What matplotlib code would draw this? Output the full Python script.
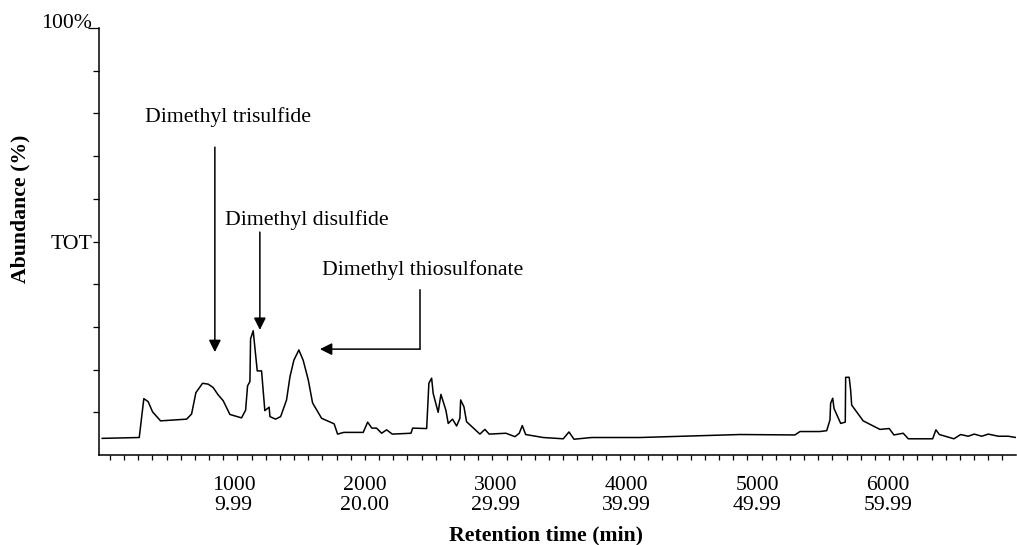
import numpy as np
import matplotlib
matplotlib.use("Agg")
import matplotlib.pyplot as plt

plt.rcParams['font.family'] = ['Liberation Serif', 'DejaVu Serif']

# Scan number and abundance (%)
scan = [-5, 278, 313, 346, 380, 441, 640, 678, 711, 762, 805, 843, 881, 920, 971,
        1060, 1091, 1106, 1124, 1129, 1149, 1180, 1213, 1238, 1271, 1277, 1320, 1359,
        1404, 1430, 1460, 1498, 1531, 1570, 1603, 1672, 1768, 1794, 1842, 1990, 2024,
        2056, 2092, 2131, 2169, 2212, 2355, 2368, 2475, 2492, 2513, 2525, 2563, 2584,
        2622, 2640, 2673, 2704, 2729, 2735, 2760, 2780, 2882, 2920, 2953, 3081, 3150,
        3183, 3206, 3232, 3366, 3519, 3563, 3601, 3736, 4105, 4870, 5290, 5329, 5481,
        5533, 5558, 5563, 5579, 5589, 5640, 5675, 5678, 5705, 5716, 5724, 5812, 5940,
        6011, 6047, 6118, 6157, 6343, 6368, 6394, 6506, 6557, 6615, 6661, 6718, 6768,
        6845, 6921, 6980]
abundance = [3.9, 4.1, 13.2, 12.5, 10.1, 8.0, 8.4, 9.6, 14.6, 16.8, 16.6, 15.8, 14.1, 12.7, 9.5,
             8.7, 10.5, 16.2, 17.2, 27.2, 29.1, 19.7, 19.7, 10.4, 11.2, 9.0, 8.4, 9.0,
             12.9, 18.3, 22.2, 24.6, 22.2, 17.6, 12.2, 8.6, 7.3, 4.9, 5.3, 5.3, 7.7,
             6.3, 6.3, 5.1, 5.9, 4.9, 5.1, 6.3, 6.2, 16.8, 18.0, 14.4, 10.0, 14.2,
             10.5, 7.4, 8.4, 6.8, 8.6, 12.9, 11.3, 7.8, 4.9, 6.0, 4.9, 5.1, 4.3,
             5.1, 6.9, 4.8, 4.1, 3.8, 5.4, 3.7, 4.1, 4.1, 4.8, 4.7, 5.5, 5.5,
             5.7, 8.2, 12.1, 13.3, 10.9, 7.4, 7.7, 18.2, 18.2, 15.2, 11.7, 8.0, 6.0,
             6.2, 4.7, 5.1, 3.8, 3.8, 5.9, 4.8, 3.8, 4.8, 4.4, 4.9, 4.4, 4.9,
             4.4, 4.4, 4.1]

x_major = [1000, 2000, 3000, 4000, 5000, 6000]
x_time = ["9.99", "20.00", "29.99", "39.99", "49.99", "59.99"]

compounds = ["Dimethyl trisulfide", "Dimethyl disulfide", "Dimethyl thiosulfonate"]

fig = plt.figure(figsize=(10.17, 5.45), dpi=100)
ax = fig.add_axes([0.0973, 0.1651, 0.9017, 0.7835])

ax.plot(scan, abundance, color='black', lw=1.1)
ax.set_xlim(-30, 6980)
ax.set_ylim(0, 100)

ax.spines['top'].set_visible(False)
ax.spines['right'].set_visible(False)
ax.spines['left'].set_linewidth(1.1)
ax.spines['bottom'].set_linewidth(1.1)

fs = 15.7
# x axis
ax.set_xticks(x_major)
ax.set_xticklabels([f"{s}\n{t}" for s, t in zip(x_major, x_time)], fontsize=fs, linespacing=1.1)
ax.tick_params(axis='x', which='major', length=0, pad=15)
ax.set_xticks(np.arange(64) * 108.3 + 53.5, minor=True)
ax.tick_params(axis='x', which='minor', length=3.5, width=0.9, direction='out')

# y axis
ax.set_yticks(np.arange(10, 101, 10))
ylabels = ["" for _ in range(10)]
ylabels[4] = "TOT"
ylabels[9] = "100%"
ax.set_yticklabels(ylabels, fontsize=fs)
ax.tick_params(axis='y', which='major', length=4, width=0.9, direction='out', pad=1)
ax.yaxis.get_major_ticks()[9].tick1line.set_markersize(8)
ax.get_yticklabels()[9].set_verticalalignment('baseline')

fig.text(0.537, 0.018, "Retention time (min)", fontsize=fs, fontweight='bold', ha='center', va='center')
fig.text(0.020, 0.617, "Abundance (%)", fontsize=fs, fontweight='bold', rotation=90, ha='center', va='center')

# annotations
ax.text(321, 79.2, compounds[0], fontsize=fs, ha='left', va='center')
ax.text(933, 55.0, compounds[1], fontsize=fs, ha='left', va='center')
ax.text(1674, 43.3, compounds[2], fontsize=fs, ha='left', va='center')

ap = dict(arrowstyle='-|>', color='black', lw=1.1, mutation_scale=18, shrinkA=0, shrinkB=0)
ax.annotate("", xy=(856, 24.1), xytext=(856, 72.1), arrowprops=ap)
ax.annotate("", xy=(1200, 29.3), xytext=(1200, 52.2), arrowprops=ap)
ax.plot([2423, 2423], [38.6, 24.8], color='black', lw=1.1)
ax.annotate("", xy=(1659, 24.8), xytext=(2423, 24.8), arrowprops=ap)

fig.savefig("out.png", dpi=100)
